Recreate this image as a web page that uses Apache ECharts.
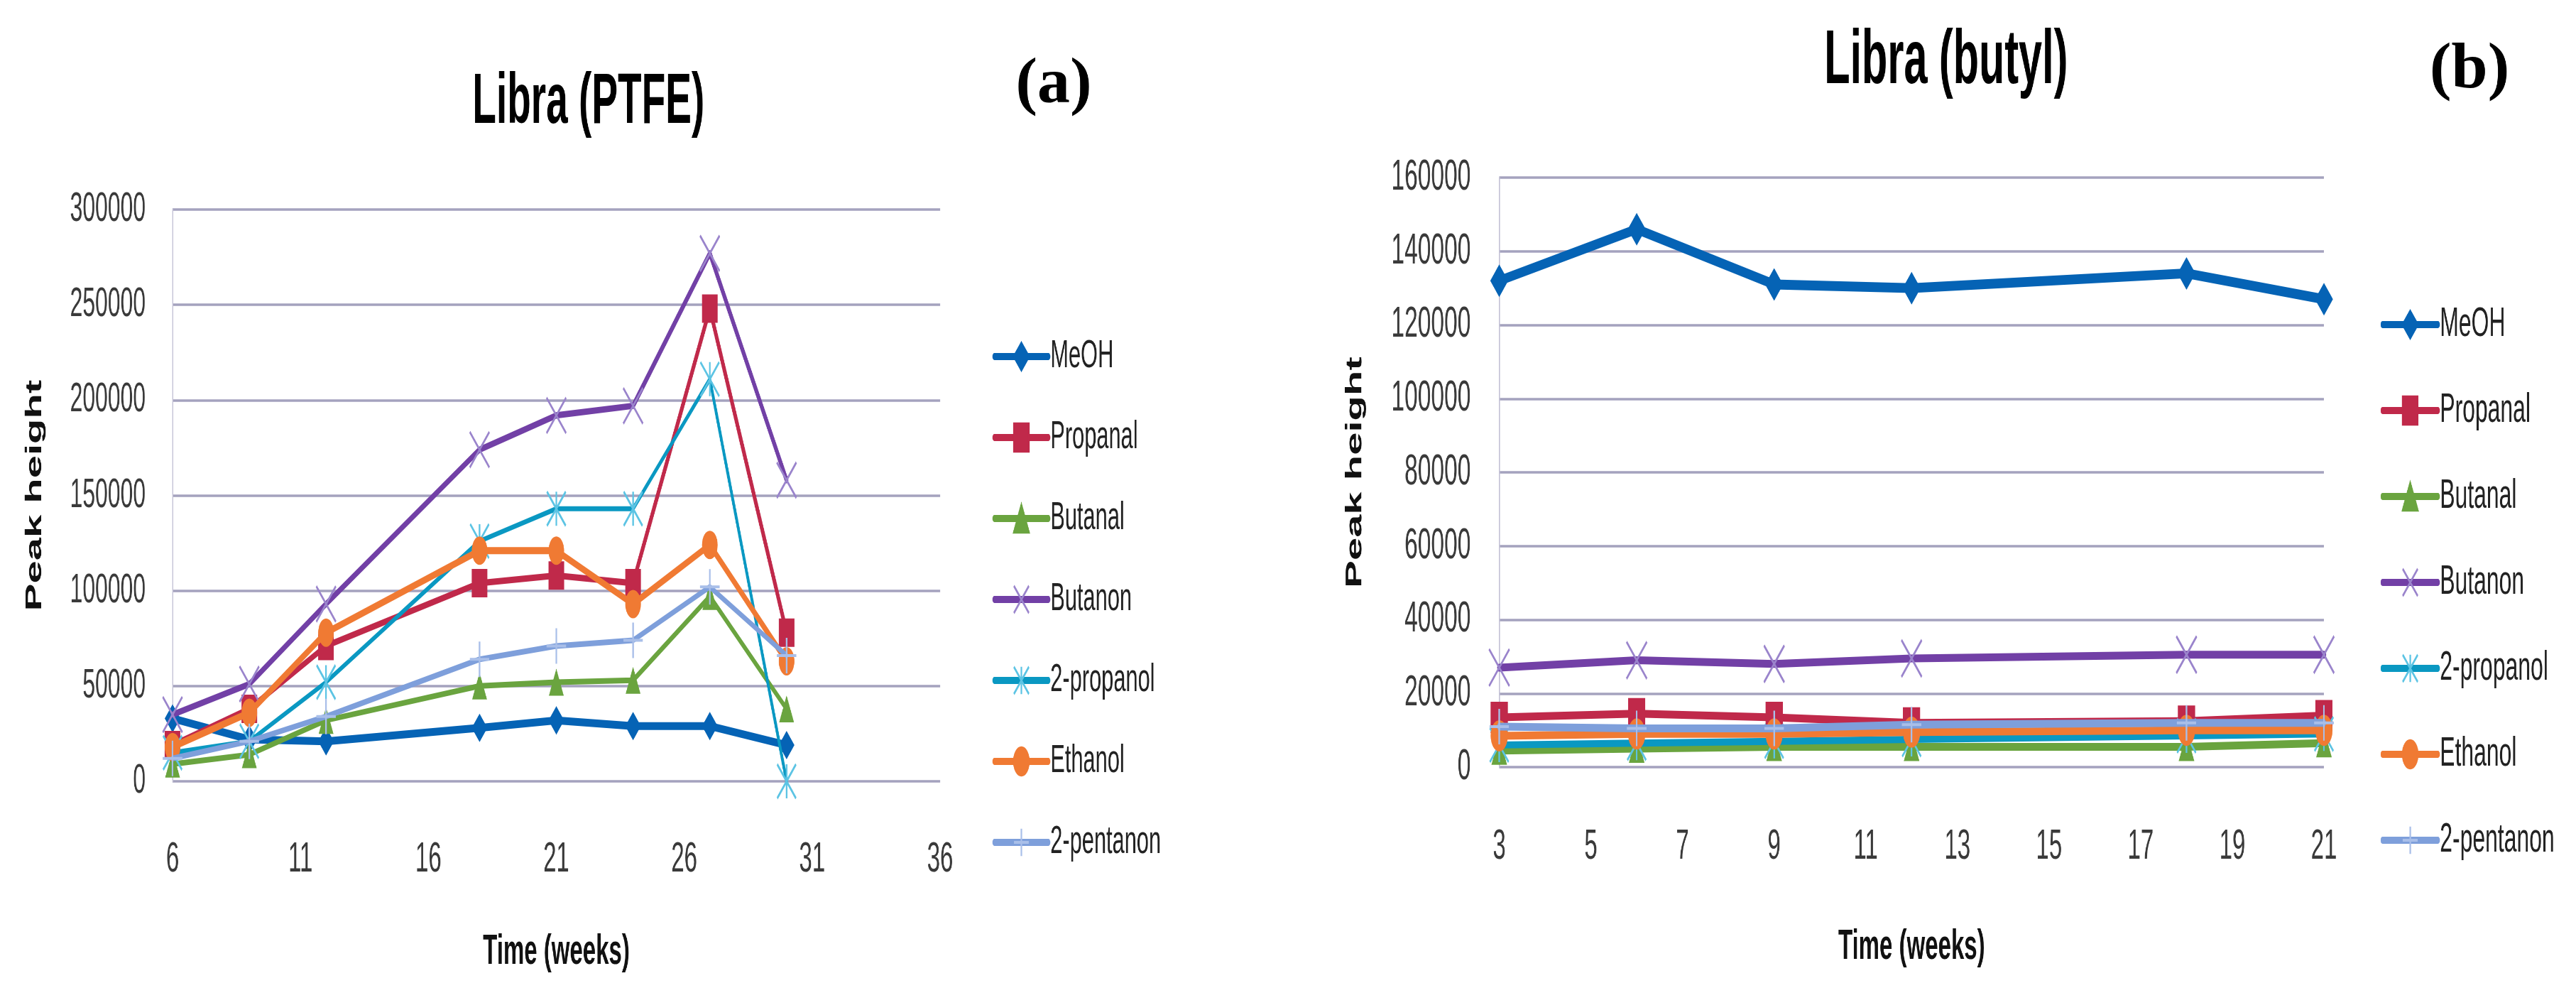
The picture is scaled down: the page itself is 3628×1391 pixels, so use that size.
<!DOCTYPE html>
<html>
<head>
<meta charset="utf-8">
<script src="https://cdn.jsdelivr.net/npm/echarts@6/dist/echarts.min.js"></script>
<style>
html,body{margin:0;padding:0;background:#fff;overflow:hidden;width:3628px;height:1391px;}
#wrap{width:3628px;height:1391px;overflow:hidden;position:relative;}
#chart{position:absolute;left:0;top:0;height:1391px;transform-origin:0 0;}
</style>
</head>
<body>
<div id="wrap"><div id="chart"></div></div>
<script>
// ---------------- data ----------------
const seriesNames = ['MeOH', 'Propanal', 'Butanal', 'Butanon', '2-propanol', 'Ethanol', '2-pentanon'];

// (a) Libra (PTFE)
const weeksA = [6, 9, 12, 18, 21, 24, 27, 30];
const meohA      = [33000, 22000, 21000, 28000, 32000, 29000, 29000, 19000];
const propanalA  = [19000, 38000, 71000, 104000, 108000, 104000, 248000, 78000];
const butanalA   = [9000, 14000, 32000, 50000, 52000, 53000, 97000, 38000];
const butanonA   = [35000, 51000, 93000, 174000, 192000, 197000, 277000, 158000];
const propanol2A = [15000, 21000, 52000, 126000, 143000, 143000, 211000, 0];
const ethanolA   = [18000, 36000, 78000, 121000, 121000, 93000, 124000, 63000];
const pentanon2A = [12000, 21000, 34000, 64000, 71000, 74000, 102000, 66000];

// (b) Libra (butyl)
const weeksB = [3, 6, 9, 12, 18, 21];
const meohB      = [132000, 146000, 131000, 130000, 134000, 127000];
const propanalB  = [13500, 14500, 13500, 12000, 12500, 14000];
const butanalB   = [4500, 5000, 5500, 5500, 5500, 6500];
const butanonB   = [27000, 29000, 28000, 29500, 30500, 30500];
const propanol2B = [6000, 6500, 7000, 7500, 8500, 9000];
const ethanolB   = [8500, 9000, 9000, 9500, 10000, 10000];
const pentanon2B = [11000, 10500, 10500, 11500, 12000, 12000];

// axis ticks
const xTicksA = {min: 6, max: 36, interval: 5};
const yTicksA = {min: 0, max: 300000, interval: 50000};
const xTicksB = {min: 3, max: 21, interval: 2};
const yTicksB = {min: 0, max: 160000, interval: 20000};

const titleA = 'Libra (PTFE)';
const titleB = 'Libra (butyl)';
const xName = 'Time (weeks)';
const yName = 'Peak height';

// ---------------- styling ----------------
const K = 0.55;                 // horizontal squash of the reference picture
const W = 3628 / K;
const u = px => px / K;         // screen x -> chart x
document.getElementById('chart').style.width = W + 'px';
document.getElementById('chart').style.transform = 'scaleX(' + K + ')';

const FONT = 'Liberation Sans';
const lineColors   = ['#0563B5', '#C0294A', '#6AA43F', '#7240A6', '#0A98C2', '#F07A33', '#7E9FDB'];
const markerColors = ['#0563B5', '#C0294A', '#6AA43F', '#9A84CC', '#5CC4E4', '#F07A33', '#A9BFE9'];
const X_SYM = 'path://M0,0L10,10M10,0L0,10';
const AST_SYM = 'path://M0,0L10,10M10,0L0,10M5,0L5,10';
const PLUS_SYM = 'path://M5,0L5,10M0,5L10,5';
const symbols = ['diamond', 'rect', 'triangle', X_SYM, AST_SYM, 'circle', PLUS_SYM];
const stroked = [false, false, false, true, true, false, true];
const symSizeA = [40, 40, 38, 50, 48, 40, 50];
const symSizeB = [46, 44, 40, 52, 48, 44, 50];
const lineWA = [11, 9, 8, 9, 7, 10, 8];
const lineWB = [14, 11, 11, 11, 10, 11, 11];

const pairs = (xs, ys) => xs.map((x, i) => [x, ys[i]]);
const dataA = [meohA, propanalA, butanalA, butanonA, propanol2A, ethanolA, pentanon2A];
const dataB = [meohB, propanalB, butanalB, butanonB, propanol2B, ethanolB, pentanon2B];

function makeSeries(idx, xs, ysList, sizes, widths) {
  return seriesNames.map((name, i) => ({
    name: name,
    type: 'line',
    xAxisIndex: idx,
    yAxisIndex: idx,
    data: pairs(xs, ysList[i]),
    symbol: symbols[i],
    symbolSize: sizes[i],
    showSymbol: true,
    lineStyle: {color: lineColors[i], width: widths[i], cap: 'round', join: 'round'},
    itemStyle: {
      color: stroked[i] ? 'rgba(0,0,0,0)' : markerColors[i],
      borderColor: markerColors[i],
      borderWidth: stroked[i] ? 4 : 0
    },
    emphasis: {disabled: true},
    z: 3 + i
  }));
}

const plain = v => String(v);

function xAxisCfg(idx, t, margin, gap) {
  return {
    gridIndex: idx, type: 'value', min: t.min, max: t.max, interval: t.interval,
    axisLine: {show: false}, axisTick: {show: false}, splitLine: {show: false},
    axisLabel: {fontSize: 60, color: '#3a3a3a', margin: margin, fontFamily: FONT, formatter: plain},
    name: xName, nameLocation: 'middle', nameGap: gap,
    nameTextStyle: {fontSize: 60, fontWeight: 'bold', color: '#111', fontFamily: FONT}
  };
}
function yAxisCfg(idx, t, fs, margin, gap) {
  return {
    gridIndex: idx, type: 'value', min: t.min, max: t.max, interval: t.interval,
    axisLine: {show: true, lineStyle: {color: '#c4c2d6', width: 3}},
    axisTick: {show: false},
    splitLine: {show: true, lineStyle: {color: '#a4a2be', width: 3.5}},
    axisLabel: {fontSize: fs, color: '#3a3a3a', margin: margin, fontFamily: FONT, formatter: plain},
    name: yName, nameLocation: 'middle', nameRotate: 90, nameGap: gap,
    nameTextStyle: {fontSize: 58, fontWeight: 'bold', color: '#111', fontFamily: FONT}
  };
}
function legendCfg(left, top, itemW, gap, fs) {
  return {
    orient: 'vertical', left: left, top: top,
    data: seriesNames,
    itemWidth: itemW, itemHeight: 48, itemGap: gap,
    lineStyle: {width: 10},
    itemStyle: {borderWidth: 4},
    textStyle: {fontSize: fs, color: '#222', fontFamily: FONT},
    selectedMode: false
  };
}

const chart = echarts.init(document.getElementById('chart'), null, {width: W, height: 1391, renderer: 'canvas'});
chart.setOption({
  animation: false,
  backgroundColor: '#ffffff',
  title: [
    {text: titleA, left: u(826), top: 90, textAlign: 'center',
     textStyle: {fontSize: 100, fontWeight: 'bold', color: '#000', fontFamily: FONT}},
    {text: titleB, left: u(2738), top: 28, textAlign: 'center',
     textStyle: {fontSize: 108, fontWeight: 'bold', color: '#000', fontFamily: FONT}}
  ],
  graphic: [
    {type: 'text', x: u(1484), y: 120, scaleX: 1 / K,
     style: {text: '(a)', align: 'center', verticalAlign: 'middle', fontSize: 92, fontWeight: 'bold', fontFamily: 'Liberation Serif', fill: '#000'}},
    {type: 'text', x: u(3478), y: 99, scaleX: 1 / K,
     style: {text: '(b)', align: 'center', verticalAlign: 'middle', fontSize: 92, fontWeight: 'bold', fontFamily: 'Liberation Serif', fill: '#000'}}
  ],
  legend: [
    legendCfg(u(1395), 469, u(76), 58, 56),
    legendCfg(u(3350), 423, u(78), 63, 58)
  ],
  grid: [
    {left: u(243), width: u(1081), top: 295, height: 805},
    {left: u(2111.5), width: u(1161.5), top: 250, height: 830}
  ],
  xAxis: [xAxisCfg(0, xTicksA, 80, 210), xAxisCfg(1, xTicksB, 82, 223)],
  yAxis: [yAxisCfg(0, yTicksA, 58, 69, 324), yAxisCfg(1, yTicksB, 61, 73, 340)],
  series: makeSeries(0, weeksA, dataA, symSizeA, lineWA).concat(makeSeries(1, weeksB, dataB, symSizeB, lineWB))
});
</script>
</body>
</html>
